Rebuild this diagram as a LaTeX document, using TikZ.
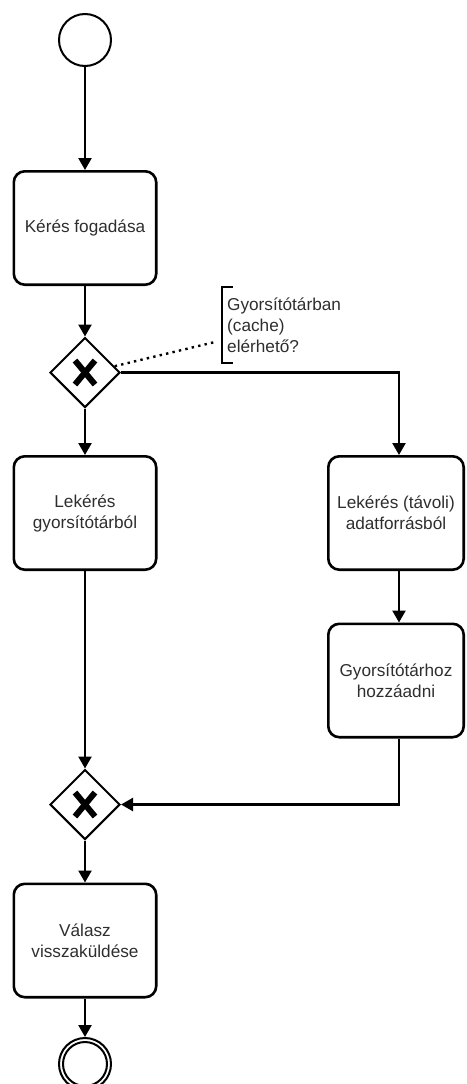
\documentclass[tikz,border=0pt]{standalone}
\usepackage{fontspec}
\setmainfont{Liberation Sans}
\usetikzlibrary{arrows.meta,shapes.geometric,calc}

\begin{document}
\begin{tikzpicture}[x=1pt,y=-1pt,
  label font/.style={font=\fontsize{17.2}{21}\selectfont, text=black!82},
  flow/.style={line width=2.4pt, -{Triangle[length=12pt,width=13pt]}},
  task/.style={draw, line width=2.6pt, rounded corners=11pt, inner sep=0pt,
    minimum width=142.4pt, minimum height=113.4pt, align=center, label font},
  rtask/.style={task, minimum width=135.4pt},
  gate/.style={draw, diamond, line width=2pt, inner sep=0pt, aspect=1,
    minimum width=70pt, minimum height=70pt},
  xmark/.style={line width=6pt},
  event/.style={draw, circle, line width=2pt, inner sep=0pt, minimum size=52pt},
  note/.style={line width=2.4pt},
  link/.style={line width=2.4pt, dash pattern=on 2.4pt off 4.2pt}
]
\useasboundingbox (0,0) rectangle (466,1084);

% column of the right-hand branch
\coordinate (colR) at (399,0);

% events
\node[event] (start) at (85,40) {};
\node[event] (end) at (85,1064) {};
\draw[line width=2pt] (end.center) circle (22pt);

% tasks
\node[task] (t1) at (85,228) {Kérés fogadása};
\node[task] (t2) at (85,513) {Lekérés\\gyorsítótárból};
\node[rtask] (t3) at (396,513) {Lekérés (távoli)\\adatforrásból};
\node[rtask] (t4) at (396,680.5) {Gyorsítótárhoz\\hozzáadni};
\node[task] (t5) at (85,940.5) {Válasz\\visszaküldése};

% exclusive gateways
\node[gate] (gw1) at (85,372.5) {};
\node[gate] (gw2) at (85,804.5) {};
\foreach \g in {gw1,gw2}{
  \draw[xmark] ($(\g)+(-10,-12)$) -- ($(\g)+(10,12)$);
  \draw[xmark] ($(\g)+(10,-12)$) -- ($(\g)+(-10,12)$);
}

% text annotation
\node[label font, anchor=west, align=left, inner sep=0pt] (ann) at (227,325)
  {Gyorsítótárban\\(cache)\\elérhető?};
\draw[note] (233,287) -- (221.7,287) -- (221.7,363) -- (233,363);
\coordinate (annlink) at (215,342);
\draw[link] (gw1.12) -- (annlink);

% sequence flows
\draw[flow] (start) -- (t1);
\draw[flow] (t1) -- (gw1);
\draw[flow] (gw1) -- (t2);
\draw[flow] (gw1.east) -| (colR |- t3.north);
\draw[flow] (colR |- t3.south) -- (colR |- t4.north);
\draw[flow] (colR |- t4.south) |- (gw2.east);
\draw[flow] (t2) -- (gw2);
\draw[flow] (gw2) -- (t5);
\draw[flow] (t5) -- (end);
\end{tikzpicture}
\end{document}
